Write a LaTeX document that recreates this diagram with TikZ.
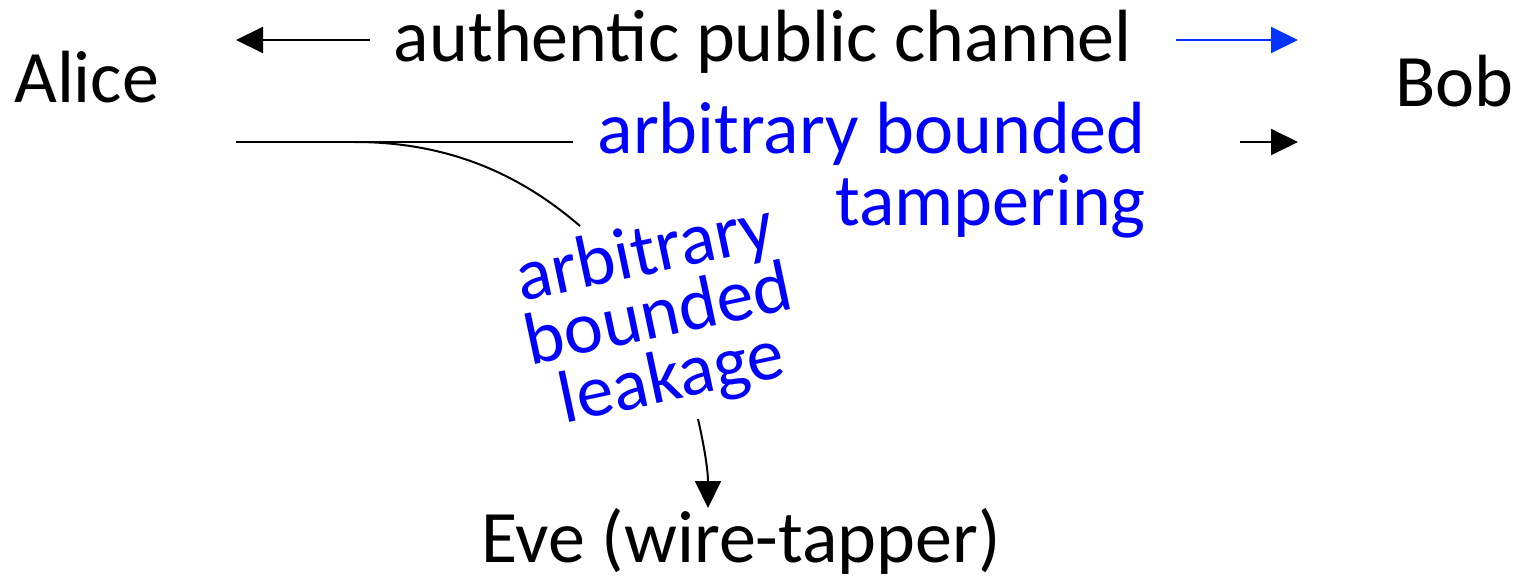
\documentclass[tikz,border=0pt]{standalone}
\usepackage{fontspec}
\setmainfont{Carlito}
\usetikzlibrary{arrows.meta}
\definecolor{labelblue}{RGB}{0,0,255}
\definecolor{arrowblue}{RGB}{0,51,255}
\begin{document}
\begin{tikzpicture}[x=1pt,y=-1pt,
  lbl/.style={inner sep=0pt, font=\fontsize{74}{74}\selectfont},
  bluelbl/.style={lbl, text=labelblue},
  wire/.style={line width=2pt},
  tip/.style={-{Triangle[length=27pt,width=26pt]}}]
\useasboundingbox (0,0) rectangle (1518,576);

% parties and labels
\node[lbl, anchor=base west] (alice) at (14,102) {Alice};
\node[lbl, anchor=base west] (bob) at (1395,106) {Bob};
\node[lbl, anchor=base] (pub) at (763,61) {authentic public channel};
\node[bluelbl, anchor=base east, align=right, font=\fontsize{74}{72}\selectfont] (tamper) at (1146,225) {arbitrary bounded\\tampering};
\node[bluelbl, align=center, rotate=12, font=\fontsize{74}{64}\selectfont] (leak) at (659,318) {arbitrary\\bounded\\leakage};
\node[lbl, anchor=base] (eve) at (741,562) {Eve (wire-tapper)};

% end points of the channel arrows
\coordinate (pubL0) at (370,40);
\coordinate (pubL1) at (236,40);
\coordinate (pubR0) at (1176,40);
\coordinate (pubR1) at (1298,40);
\coordinate (tamL) at (236,142);
\coordinate (tamM) at (573,142);
\coordinate (tamR0) at (1240,142);
\coordinate (tamR1) at (1298,142);
\coordinate (leakS) at (355,142);
\coordinate (leakE) at (580,226);
\coordinate (eveS) at (698,419);
\coordinate (eveT) at (708,508);

% public channel, both directions
\draw[wire, tip] (pubL0) -- (pubL1);
\draw[wire, tip, arrowblue] (pubR0) -- (pubR1);

% tampered channel
\draw[wire] (tamL) -- (tamM);
\draw[wire, tip] (tamR0) -- (tamR1);

% leakage branch towards Eve
\draw[wire] (leakS) .. controls (460,142) and (530,183) .. (leakE);
\draw[wire, tip] (eveS) .. controls (704,445) and (708,470) .. (eveT);
\end{tikzpicture}
\end{document}
